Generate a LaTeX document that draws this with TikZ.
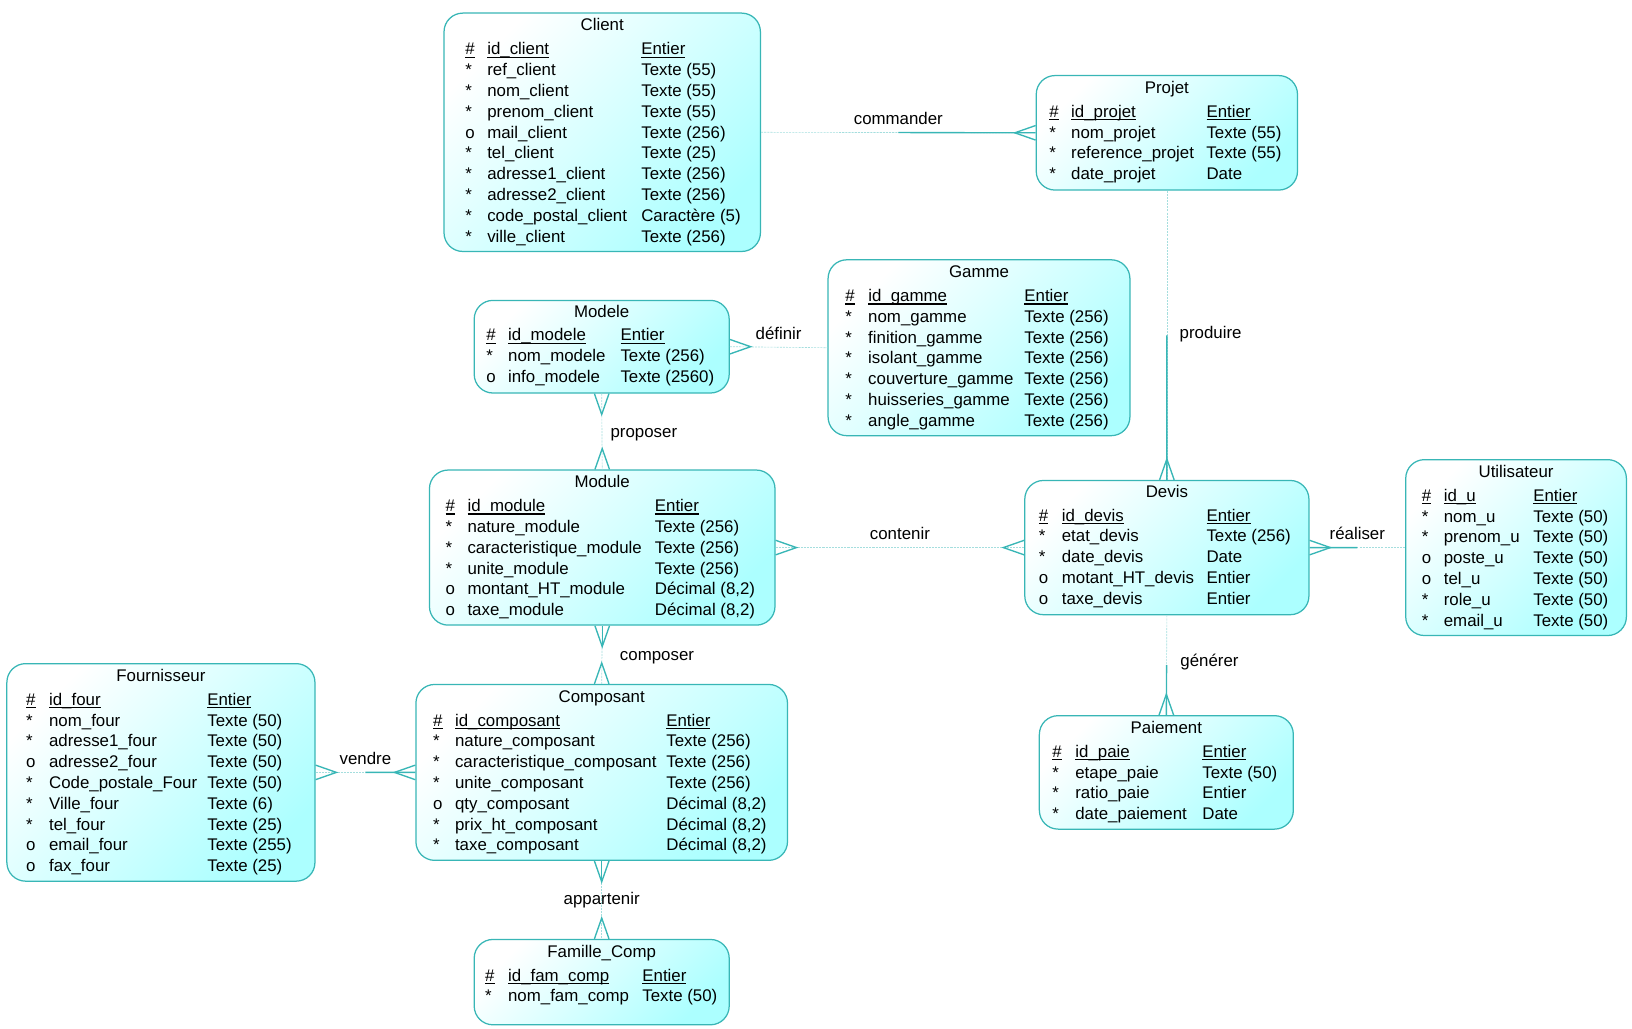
\documentclass[tikz,border=0pt]{standalone}
\usepackage{fontspec}
\setmainfont{Liberation Sans}
\usepackage{array}
\usepackage{xcolor}
\usetikzlibrary{calc}

\definecolor{erline}{RGB}{56,182,182}
\definecolor{erfill}{RGB}{172,255,255}

% underlined key fields
\newcommand{\pk}[1]{\leavevmode\setbox0\hbox{#1}\rlap{\rule[-3pt]{\wd0}{1.3pt}}\box0}

\begin{document}
\begin{tikzpicture}[x=1pt, y=-1pt,
  entity/.style={draw=erline, line width=1.2pt, rounded corners=18pt,
    top color=white, bottom color=erfill, shading angle=45,
    inner sep=0pt, anchor=north west},
  %
  etitle/.style={anchor=base, inner sep=0pt, font=\fontsize{16.2}{20}\selectfont},
  %
  tbl/.style={anchor=base west, inner sep=0pt, font=\fontsize{16.2}{20}\selectfont},
  %
  lbl/.style={anchor=base, inner sep=0pt, font=\fontsize{16.2}{20}\selectfont},
  %
  opt/.style={draw=erline!45, line width=.6pt, dash pattern=on 2pt off 1pt},
  %
  must/.style={draw=erline, line width=1.3pt},
  %
  crow/.pic={\draw[must] (0,-7) -- (20,0) -- (0,7);}
  ]

  \useasboundingbox (0,0) rectangle (1568,988);

  %%%%%%%%%%%%%%%%%%%%%%%%%%%%%%% Client
  \node[entity, minimum width=304, minimum height=229] (client) at (426,12) {};
  \node[etitle] at ([yshift=-17.6]client.north) {Client};
  \node[tbl] at ([xshift=21, yshift=-40.6]client.north west) {%
    \begin{tabular}[t]{@{}p{21pt}@{}p{148pt}@{}l@{}}
      \pk{\#} & \pk{id\_client} & \pk{Entier}\\
      {*} & ref\_client & Texte (55)\\
      {*} & nom\_client & Texte (55)\\
      {*} & prenom\_client & Texte (55)\\
      o & mail\_client & Texte (256)\\
      {*} & tel\_client & Texte (25)\\
      {*} & adresse1\_client & Texte (256)\\
      {*} & adresse2\_client & Texte (256)\\
      {*} & code\_postal\_client & Caractère (5)\\
      {*} & ville\_client & Texte (256)\\
    \end{tabular}};

  %%%%%%%%%%%%%%%%%%%%%%%%%%%%%%% Projet
  \node[entity, minimum width=251, minimum height=110] (projet) at (995,72) {};
  \node[etitle] at ([yshift=-17.6]projet.north) {Projet};
  \node[tbl] at ([xshift=13, yshift=-40.6]projet.north west) {%
    \begin{tabular}[t]{@{}p{21pt}@{}p{130pt}@{}l@{}}
      \pk{\#} & \pk{id\_projet} & \pk{Entier}\\
      {*} & nom\_projet & Texte (55)\\
      {*} & reference\_projet & Texte (55)\\
      {*} & date\_projet & Date\\
    \end{tabular}};

  %%%%%%%%%%%%%%%%%%%%%%%%%%%%%%% Modele
  \node[entity, minimum width=245, minimum height=89] (modele) at (455,288) {};
  \node[etitle] at ([yshift=-16.6]modele.north) {Modele};
  \node[tbl] at ([xshift=12, yshift=-39.6]modele.north west) {%
    \begin{tabular}[t]{@{}p{21pt}@{}p{108pt}@{}l@{}}
      \pk{\#} & \pk{id\_modele} & \pk{Entier}\\
      {*} & nom\_modele & Texte (256)\\
      o & info\_modele & Texte (2560)\\
    \end{tabular}};

  %%%%%%%%%%%%%%%%%%%%%%%%%%%%%%% Gamme
  \node[entity, minimum width=290, minimum height=169] (gamme) at (795,249) {};
  \node[etitle] at ([yshift=-17.6]gamme.north) {Gamme};
  \node[tbl] at ([xshift=17, yshift=-40.6]gamme.north west) {%
    \begin{tabular}[t]{@{}p{22pt}@{}p{150pt}@{}l@{}}
      \pk{\#} & \pk{id\_gamme} & \pk{Entier}\\
      {*} & nom\_gamme & Texte (256)\\
      {*} & finition\_gamme & Texte (256)\\
      {*} & isolant\_gamme & Texte (256)\\
      {*} & couverture\_gamme & Texte (256)\\
      {*} & huisseries\_gamme & Texte (256)\\
      {*} & angle\_gamme & Texte (256)\\
    \end{tabular}};

  %%%%%%%%%%%%%%%%%%%%%%%%%%%%%%% Module
  \node[entity, minimum width=332, minimum height=149] (module) at (412,451) {};
  \node[etitle] at ([yshift=-17.6]module.north) {Module};
  \node[tbl] at ([xshift=16, yshift=-40.6]module.north west) {%
    \begin{tabular}[t]{@{}p{21pt}@{}p{180pt}@{}l@{}}
      \pk{\#} & \pk{id\_module} & \pk{Entier}\\
      {*} & nature\_module & Texte (256)\\
      {*} & caracteristique\_module & Texte (256)\\
      {*} & unite\_module & Texte (256)\\
      o & montant\_HT\_module & Décimal (8,2)\\
      o & taxe\_module & Décimal (8,2)\\
    \end{tabular}};

  %%%%%%%%%%%%%%%%%%%%%%%%%%%%%%% Devis
  \node[entity, minimum width=273, minimum height=129] (devis) at (984,461) {};
  \node[etitle] at ([yshift=-16.6]devis.north) {Devis};
  \node[tbl] at ([xshift=14, yshift=-39.6]devis.north west) {%
    \begin{tabular}[t]{@{}p{22pt}@{}p{139pt}@{}l@{}}
      \pk{\#} & \pk{id\_devis} & \pk{Entier}\\
      {*} & etat\_devis & Texte (256)\\
      {*} & date\_devis & Date\\
      o & motant\_HT\_devis & Entier\\
      o & taxe\_devis & Entier\\
    \end{tabular}};

  %%%%%%%%%%%%%%%%%%%%%%%%%%%%%%% Utilisateur
  \node[entity, minimum width=212, minimum height=169] (utilisateur) at (1350,441) {};
  \node[etitle] at ([yshift=-17.6]utilisateur.north) {Utilisateur};
  \node[tbl] at ([xshift=16, yshift=-40.6]utilisateur.north west) {%
    \begin{tabular}[t]{@{}p{21pt}@{}p{86pt}@{}l@{}}
      \pk{\#} & \pk{id\_u} & \pk{Entier}\\
      {*} & nom\_u & Texte (50)\\
      {*} & prenom\_u & Texte (50)\\
      o & poste\_u & Texte (50)\\
      o & tel\_u & Texte (50)\\
      {*} & role\_u & Texte (50)\\
      {*} & email\_u & Texte (50)\\
    \end{tabular}};

  %%%%%%%%%%%%%%%%%%%%%%%%%%%%%%% Fournisseur
  \node[entity, minimum width=296, minimum height=209] (fournisseur) at (6,637) {};
  \node[etitle] at ([yshift=-17.6]fournisseur.north) {Fournisseur};
  \node[tbl] at ([xshift=19, yshift=-40.6]fournisseur.north west) {%
    \begin{tabular}[t]{@{}p{22pt}@{}p{152pt}@{}l@{}}
      \pk{\#} & \pk{id\_four} & \pk{Entier}\\
      {*} & nom\_four & Texte (50)\\
      {*} & adresse1\_four & Texte (50)\\
      o & adresse2\_four & Texte (50)\\
      {*} & Code\_postale\_Four & Texte (50)\\
      {*} & Ville\_four & Texte (6)\\
      {*} & tel\_four & Texte (25)\\
      o & email\_four & Texte (255)\\
      o & fax\_four & Texte (25)\\
    \end{tabular}};

  %%%%%%%%%%%%%%%%%%%%%%%%%%%%%%% Composant
  \node[entity, minimum width=357, minimum height=169] (composant) at (399,657) {};
  \node[etitle] at ([yshift=-17.6]composant.north) {Composant};
  \node[tbl] at ([xshift=17, yshift=-40.6]composant.north west) {%
    \begin{tabular}[t]{@{}p{21pt}@{}p{203pt}@{}l@{}}
      \pk{\#} & \pk{id\_composant} & \pk{Entier}\\
      {*} & nature\_composant & Texte (256)\\
      {*} & caracteristique\_composant & Texte (256)\\
      {*} & unite\_composant & Texte (256)\\
      o & qty\_composant & Décimal (8,2)\\
      {*} & prix\_ht\_composant & Décimal (8,2)\\
      {*} & taxe\_composant & Décimal (8,2)\\
    \end{tabular}};

  %%%%%%%%%%%%%%%%%%%%%%%%%%%%%%% Paiement
  \node[entity, minimum width=244, minimum height=109] (paiement) at (998,687) {};
  \node[etitle] at ([yshift=-17.6]paiement.north) {Paiement};
  \node[tbl] at ([xshift=13, yshift=-40.6]paiement.north west) {%
    \begin{tabular}[t]{@{}p{22pt}@{}p{122pt}@{}l@{}}
      \pk{\#} & \pk{id\_paie} & \pk{Entier}\\
      {*} & etape\_paie & Texte (50)\\
      {*} & ratio\_paie & Entier\\
      {*} & date\_paiement & Date\\
    \end{tabular}};

  %%%%%%%%%%%%%%%%%%%%%%%%%%%%%%% Famille_Comp
  \node[entity, minimum width=245, minimum height=82] (famille) at (455,902) {};
  \node[etitle] at ([yshift=-17.6]famille.north) {Famille\_Comp};
  \node[tbl] at ([xshift=11, yshift=-40.6]famille.north west) {%
    \begin{tabular}[t]{@{}p{22pt}@{}p{129pt}@{}l@{}}
      \pk{\#} & \pk{id\_fam\_comp} & \pk{Entier}\\
      {*} & nom\_fam\_comp & Texte (50)\\
    \end{tabular}};

  %%%%%%%%%%%%%%%%%%%%%%%%%%%%%%% relations
  \draw[opt] (client.east) -- node[lbl, yshift=7.5] {commander} (projet.west);
  \draw[must] (projet.west) -- ($(projet.west)!.5!(client.east)$);
  \pic[rotate=180] at (projet.west) {crow};

  \draw[opt] (modele.east) -- node[lbl, yshift=7.5] {définir} (gamme.west);
  \pic at (modele.east) {crow};

  \draw[opt] (projet.south) -- node[lbl, anchor=base west, xshift=12, yshift=-3] {produire} (devis.north);
  \draw[must] (devis.north) -- ($(devis.north)!.5!(projet.south)$);
  \pic[rotate=90] at (devis.north) {crow};

  \draw[opt] (modele.south) -- node[lbl, anchor=base west, xshift=8, yshift=-5.6] {proposer} (module.north);
  \pic[rotate=-90] at (modele.south) {crow};
  \pic[rotate=90] at (module.north) {crow};

  \draw[opt] (module.east) -- node[lbl, yshift=7.5] {contenir} (devis.west);
  \pic at (module.east) {crow};
  \pic[rotate=180] at (devis.west) {crow};

  \draw[opt] (devis.east) -- node[lbl, yshift=7.5] {réaliser} (utilisateur.west);
  \draw[must] (devis.east) -- ($(devis.east)!.5!(utilisateur.west)$);
  \pic at (devis.east) {crow};

  \draw[opt] (devis.south) -- node[lbl, anchor=base west, xshift=13, yshift=-1.1] {générer} (paiement.north);
  \draw[must] (paiement.north) -- ($(paiement.north)!.5!(devis.south)$);
  \pic[rotate=90] at (paiement.north) {crow};

  \draw[opt] (module.south) -- node[lbl, anchor=base west, xshift=17, yshift=-5.1] {composer} (composant.north);
  \draw[must] (module.south) -- ++(0,20);
  \pic[rotate=-90] at (module.south) {crow};
  \pic[rotate=90] at (composant.north) {crow};

  \draw[opt] (fournisseur.east) -- node[lbl, yshift=7.5] {vendre} (composant.west);
  \draw[must] (composant.west) -- ($(composant.west)!.5!(fournisseur.east)$);
  \pic at (fournisseur.east) {crow};
  \pic[rotate=180] at (composant.west) {crow};

  \draw[opt] (composant.south) -- node[lbl, yshift=-4.6] {appartenir} (famille.north);
  \draw[must] (composant.south) -- ++(0,20);
  \pic[rotate=-90] at (composant.south) {crow};
  \pic[rotate=90] at (famille.north) {crow};

\end{tikzpicture}
\end{document}
